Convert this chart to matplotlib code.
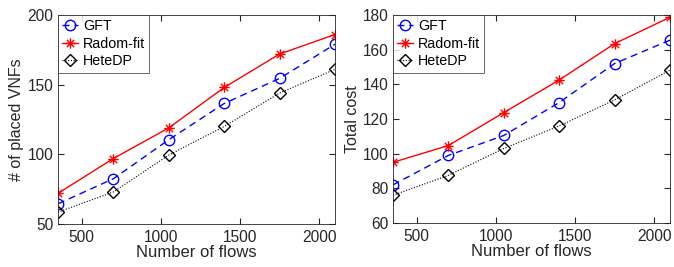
import matplotlib
matplotlib.use("Agg")
from matplotlib import pyplot as plt
from matplotlib.path import Path

plt.rcParams['font.family'] = ['Liberation Sans', 'DejaVu Sans']
plt.rcParams['font.size'] = 10

flows = [350, 700, 1050, 1400, 1750, 2100]

# placed VNFs
vnf_gft = [64.5, 82.5, 110.5, 136.5, 154.5, 179]
vnf_radom = [72, 97, 119, 148, 172, 186]
vnf_hete = [58.5, 73, 99.5, 120, 144, 161]

# total cost
cost_gft = [82, 99, 110.5, 129.5, 152, 165.5]
cost_radom = [95, 104.7, 123.7, 142.5, 163.5, 178.7]
cost_hete = [76, 87.5, 103, 116, 131, 148.2]

names = ['GFT', 'Radom-fit', 'HeteDP']

# matlab style asterisk (+ and x on top of each other)
d = 0.707
asterisk = Path([(-1, 0), (1, 0), (0, -1), (0, 1), (-d, -d), (d, d), (-d, d), (d, -d)],
                [Path.MOVETO, Path.LINETO] * 4)


def draw(ax, gft, radom, hete, ylim, yticks, ylabel):
    ax.plot(flows, gft, color='blue', linestyle=(0, (5, 3.5)), linewidth=1,
            marker='o', markersize=7.5, markerfacecolor='none', markeredgewidth=1,
            label=names[0])
    ax.plot(flows, radom, color='red', linestyle='-', linewidth=1,
            marker=asterisk, markersize=7.5, markeredgewidth=1,
            label=names[1])
    ax.plot(flows, hete, color='black', linestyle=(0, (1, 1.5)), linewidth=0.8,
            marker='D', markersize=6.5, markerfacecolor='none', markeredgewidth=1,
            label=names[2])
    ax.set_xlim(350, 2100)
    ax.set_ylim(*ylim)
    ax.set_xticks([500, 1000, 1500, 2000])
    ax.set_yticks(yticks)
    ax.tick_params(direction='in', top=True, right=True, length=4,
                   labelsize=11.2, colors='#262626')
    ax.tick_params(axis='x', pad=4.5)
    ax.tick_params(axis='y', pad=3.5)
    for s in ax.spines.values():
        s.set_color('#262626')
        s.set_linewidth(0.6)
    ax.set_xlabel('Number of flows', fontsize=12, color='#262626', labelpad=0)
    ax.set_ylabel(ylabel, fontsize=11.5, color='#262626', labelpad=2)
    leg = ax.legend(loc='upper left', fontsize=10.3, frameon=True, fancybox=False,
                    borderaxespad=0, handlelength=1.1, handletextpad=0.35,
                    borderpad=0.3, labelspacing=0.25)
    leg.get_frame().set_edgecolor('#262626')
    leg.get_frame().set_linewidth(0.6)


fig = plt.figure(figsize=(6.74, 2.67), dpi=100)
ax1 = fig.add_axes([58 / 674, 43 / 267, 277 / 674, 209 / 267])
ax2 = fig.add_axes([393 / 674, 44 / 267, 277 / 674, 208 / 267])

draw(ax1, vnf_gft, vnf_radom, vnf_hete, (50, 200), [50, 100, 150, 200], '# of placed VNFs')
draw(ax2, cost_gft, cost_radom, cost_hete, (60, 180), [60, 80, 100, 120, 140, 160, 180], 'Total cost')

fig.savefig('out.png', dpi=100)
